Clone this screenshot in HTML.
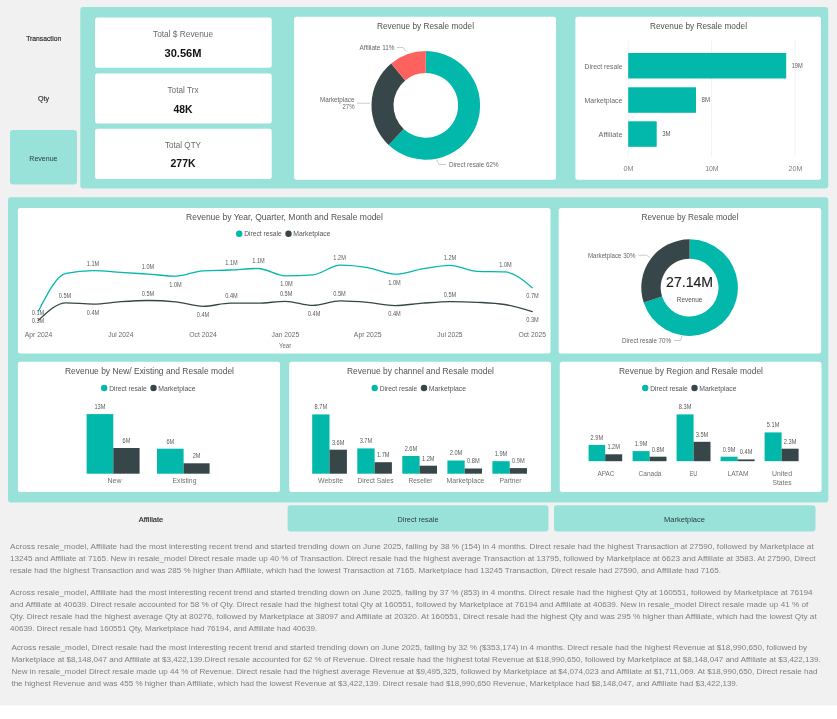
<!DOCTYPE html>
<html><head><meta charset="utf-8"><title>Dashboard</title>
<style>html,body{margin:0;padding:0;background:#fff;overflow:hidden}svg{display:block;will-change:transform}text{font-family:"Liberation Sans",sans-serif}</style></head>
<body>
<svg width="837" height="719" viewBox="0 0 837 719">
<rect x="0.00" y="0.00" width="837.00" height="705.60" fill="#f1f1f1"/>
<rect x="0.00" y="705.60" width="837.00" height="13.40" fill="#ffffff"/>
<rect x="80.30" y="6.90" width="747.90" height="181.70" fill="#99e2da" rx="3"/>
<text x="43.70" y="40.60" font-size="7.8" fill="#222" text-anchor="middle" stroke="#222" stroke-width="0.14" textLength="35.0" lengthAdjust="spacingAndGlyphs">Transaction</text>
<text x="43.50" y="100.70" font-size="7.8" fill="#222" text-anchor="middle" stroke="#222" stroke-width="0.14" textLength="11.1" lengthAdjust="spacingAndGlyphs">Qty</text>
<rect x="10.00" y="130.00" width="67.00" height="54.40" fill="#99e2da" rx="3"/>
<text x="43.40" y="160.80" font-size="7.9" fill="#2c3c3c" text-anchor="middle" textLength="28.2" lengthAdjust="spacingAndGlyphs">Revenue</text>
<rect x="95.00" y="17.60" width="176.70" height="50.10" fill="#fff" rx="2.5"/>
<text x="183.00" y="37.30" font-size="9" fill="#6a6a6a" text-anchor="middle" textLength="60.0" lengthAdjust="spacingAndGlyphs">Total $ Revenue</text>
<text x="183.00" y="56.50" font-size="11" fill="#111" text-anchor="middle" textLength="37.0" lengthAdjust="spacingAndGlyphs" font-weight="700">30.56M</text>
<rect x="95.00" y="73.60" width="176.70" height="49.80" fill="#fff" rx="2.5"/>
<text x="183.00" y="93.30" font-size="9" fill="#6a6a6a" text-anchor="middle" textLength="31.0" lengthAdjust="spacingAndGlyphs">Total Trx</text>
<text x="183.00" y="112.50" font-size="11" fill="#111" text-anchor="middle" textLength="19.0" lengthAdjust="spacingAndGlyphs" font-weight="700">48K</text>
<rect x="95.00" y="128.80" width="176.70" height="50.20" fill="#fff" rx="2.5"/>
<text x="183.00" y="147.80" font-size="9" fill="#6a6a6a" text-anchor="middle" textLength="36.0" lengthAdjust="spacingAndGlyphs">Total QTY</text>
<text x="183.00" y="167.30" font-size="11" fill="#111" text-anchor="middle" textLength="25.0" lengthAdjust="spacingAndGlyphs" font-weight="700">277K</text>
<rect x="294.10" y="16.70" width="261.90" height="163.00" fill="#fff" rx="2.5"/>
<text x="425.50" y="28.60" font-size="9" fill="#525252" text-anchor="middle" textLength="97.0" lengthAdjust="spacingAndGlyphs">Revenue by Resale model</text>
<path d="M425.80,51.10 A54.3,54.3 0 1 1 388.63,144.98 L403.69,128.95 A32.3,32.3 0 1 0 425.80,73.10 Z" fill="#01b8aa"/>
<path d="M388.63,144.98 A54.3,54.3 0 0 1 391.19,63.56 L405.21,80.51 A32.3,32.3 0 0 0 403.69,128.95 Z" fill="#374649"/>
<path d="M391.19,63.56 A54.3,54.3 0 0 1 425.80,51.10 L425.80,73.10 A32.3,32.3 0 0 0 405.21,80.51 Z" fill="#fd625e"/>
<text x="394.50" y="50.00" font-size="6.6" fill="#666" text-anchor="end" textLength="35.0" lengthAdjust="spacingAndGlyphs">Affiliate 11%</text>
<path d="M397,47.5 h6 l3,4" fill="none" stroke="#b4b4b4" stroke-width="0.7"/>
<text x="354.50" y="102.30" font-size="6.6" fill="#666" text-anchor="end" textLength="34.5" lengthAdjust="spacingAndGlyphs">Marketplace</text>
<text x="354.50" y="108.90" font-size="6.6" fill="#666" text-anchor="end" textLength="12.0" lengthAdjust="spacingAndGlyphs">27%</text>
<path d="M357,103.2 h13" fill="none" stroke="#b4b4b4" stroke-width="0.7"/>
<text x="449.00" y="167.00" font-size="6.6" fill="#666" text-anchor="start" textLength="49.5" lengthAdjust="spacingAndGlyphs">Direct resale 62%</text>
<path d="M437,160 l2,4.5 h7" fill="none" stroke="#b4b4b4" stroke-width="0.7"/>
<rect x="575.40" y="16.70" width="245.60" height="163.10" fill="#fff" rx="2.5"/>
<text x="698.50" y="28.60" font-size="9" fill="#525252" text-anchor="middle" textLength="97.0" lengthAdjust="spacingAndGlyphs">Revenue by Resale model</text>
<line x1="628.2" y1="40" x2="628.2" y2="156" stroke="#ececec" stroke-width="0.7"/>
<line x1="711.6" y1="40" x2="711.6" y2="156" stroke="#ececec" stroke-width="0.7"/>
<line x1="795.1" y1="40" x2="795.1" y2="156" stroke="#ececec" stroke-width="0.7"/>
<rect x="628.20" y="53.00" width="158.00" height="25.50" fill="#01b8aa"/>
<text x="622.50" y="68.75" font-size="7.6" fill="#6a6a6a" text-anchor="end" textLength="38.0" lengthAdjust="spacingAndGlyphs">Direct resale</text>
<text x="791.70" y="68.15" font-size="6.4" fill="#5a5a5a" text-anchor="start" textLength="11.0" lengthAdjust="spacingAndGlyphs">19M</text>
<rect x="628.20" y="87.30" width="67.80" height="25.50" fill="#01b8aa"/>
<text x="622.50" y="103.05" font-size="7.6" fill="#6a6a6a" text-anchor="end" textLength="38.0" lengthAdjust="spacingAndGlyphs">Marketplace</text>
<text x="701.50" y="102.45" font-size="6.4" fill="#5a5a5a" text-anchor="start" textLength="8.5" lengthAdjust="spacingAndGlyphs">8M</text>
<rect x="628.20" y="121.30" width="28.50" height="25.50" fill="#01b8aa"/>
<text x="622.50" y="137.05" font-size="7.6" fill="#6a6a6a" text-anchor="end" textLength="24.0" lengthAdjust="spacingAndGlyphs">Affiliate</text>
<text x="662.20" y="136.45" font-size="6.4" fill="#5a5a5a" text-anchor="start" textLength="8.5" lengthAdjust="spacingAndGlyphs">3M</text>
<text x="628.50" y="171.00" font-size="7.3" fill="#808080" text-anchor="middle" textLength="10.0" lengthAdjust="spacingAndGlyphs">0M</text>
<text x="711.90" y="171.00" font-size="7.3" fill="#808080" text-anchor="middle" textLength="13.5" lengthAdjust="spacingAndGlyphs">10M</text>
<text x="795.40" y="171.00" font-size="7.3" fill="#808080" text-anchor="middle" textLength="14.0" lengthAdjust="spacingAndGlyphs">20M</text>
<rect x="8.00" y="197.20" width="820.30" height="305.30" fill="#99e2da" rx="3"/>
<rect x="17.90" y="207.90" width="532.60" height="145.50" fill="#fff" rx="2.5"/>
<text x="284.50" y="220.20" font-size="9" fill="#525252" text-anchor="middle" textLength="197.0" lengthAdjust="spacingAndGlyphs">Revenue by Year, Quarter, Month and Resale model</text>
<circle cx="239.20" cy="233.70" r="3.2" fill="#01b8aa"/>
<text x="244.20" y="236.40" font-size="7.3" fill="#555" text-anchor="start" textLength="37.6" lengthAdjust="spacingAndGlyphs">Direct resale</text>
<circle cx="288.50" cy="233.70" r="3.2" fill="#374649"/>
<text x="293.30" y="236.40" font-size="7.3" fill="#555" text-anchor="start" textLength="37.2" lengthAdjust="spacingAndGlyphs">Marketplace</text>
<path d="M38.50,320.30 C47.64,311.55 56.79,302.80 65.93,302.80 C75.07,302.80 84.22,304.10 93.36,304.10 C102.50,304.10 111.65,302.30 120.79,301.70 C129.93,301.10 139.08,300.50 148.22,300.50 C157.36,300.50 166.51,300.97 175.65,301.90 C184.79,302.83 193.94,306.30 203.08,306.30 C212.22,306.30 221.37,303.20 230.51,303.20 C239.65,303.20 248.80,303.20 257.94,303.20 C267.08,303.20 276.23,301.30 285.37,301.30 C294.51,301.30 303.66,305.40 312.80,305.40 C321.94,305.40 331.09,300.90 340.23,300.90 C349.37,300.90 358.52,301.62 367.66,302.40 C376.80,303.18 385.95,305.60 395.09,305.60 C404.23,305.60 413.38,303.87 422.52,303.20 C431.66,302.53 440.81,301.60 449.95,301.60 C459.09,301.60 468.24,301.83 477.38,302.30 C486.52,302.77 495.67,303.03 504.81,304.50 C513.95,305.97 523.10,308.78 532.24,311.60" fill="none" stroke="#374649" stroke-width="1.3" stroke-linecap="round" stroke-linejoin="round"/>
<path d="M38.50,311.00 C47.64,293.05 56.79,275.10 65.93,273.30 C75.07,271.50 84.22,270.60 93.36,270.60 C102.50,270.60 111.65,271.82 120.79,272.40 C129.93,272.98 139.08,273.47 148.22,274.10 C157.36,274.73 166.51,276.20 175.65,276.20 C184.79,276.20 193.94,271.33 203.08,270.80 C212.22,270.27 221.37,270.38 230.51,270.00 C239.65,269.62 248.80,268.50 257.94,268.50 C267.08,268.50 276.23,275.90 285.37,275.90 C294.51,275.90 303.66,275.57 312.80,274.90 C321.94,274.23 331.09,265.10 340.23,265.10 C349.37,265.10 358.52,266.08 367.66,267.60 C376.80,269.12 385.95,274.20 395.09,274.20 C404.23,274.20 413.38,270.37 422.52,268.90 C431.66,267.43 440.81,265.40 449.95,265.40 C459.09,265.40 468.24,271.07 477.38,271.40 C486.52,271.73 495.67,271.57 504.81,271.90 C513.95,272.23 523.10,279.97 532.24,287.70" fill="none" stroke="#01b8aa" stroke-width="1.3" stroke-linecap="round" stroke-linejoin="round"/>
<text x="38.50" y="336.50" font-size="7.3" fill="#6a6a6a" text-anchor="middle" textLength="27.6" lengthAdjust="spacingAndGlyphs">Apr 2024</text>
<text x="120.79" y="336.50" font-size="7.3" fill="#6a6a6a" text-anchor="middle" textLength="25.2" lengthAdjust="spacingAndGlyphs">Jul 2024</text>
<text x="203.08" y="336.50" font-size="7.3" fill="#6a6a6a" text-anchor="middle" textLength="27.6" lengthAdjust="spacingAndGlyphs">Oct 2024</text>
<text x="285.37" y="336.50" font-size="7.3" fill="#6a6a6a" text-anchor="middle" textLength="27.6" lengthAdjust="spacingAndGlyphs">Jan 2025</text>
<text x="367.66" y="336.50" font-size="7.3" fill="#6a6a6a" text-anchor="middle" textLength="27.6" lengthAdjust="spacingAndGlyphs">Apr 2025</text>
<text x="449.95" y="336.50" font-size="7.3" fill="#6a6a6a" text-anchor="middle" textLength="25.2" lengthAdjust="spacingAndGlyphs">Jul 2025</text>
<text x="532.24" y="336.50" font-size="7.3" fill="#6a6a6a" text-anchor="middle" textLength="27.6" lengthAdjust="spacingAndGlyphs">Oct 2025</text>
<text x="285.10" y="347.50" font-size="7.3" fill="#707070" text-anchor="middle" textLength="12.4" lengthAdjust="spacingAndGlyphs">Year</text>
<text x="93.00" y="266.00" font-size="6.4" fill="#5a5a5a" text-anchor="middle" textLength="12.5" lengthAdjust="spacingAndGlyphs">1.1M</text>
<text x="148.00" y="269.00" font-size="6.4" fill="#5a5a5a" text-anchor="middle" textLength="12.5" lengthAdjust="spacingAndGlyphs">1.0M</text>
<text x="175.50" y="287.00" font-size="6.4" fill="#5a5a5a" text-anchor="middle" textLength="12.5" lengthAdjust="spacingAndGlyphs">1.0M</text>
<text x="231.50" y="265.00" font-size="6.4" fill="#5a5a5a" text-anchor="middle" textLength="12.5" lengthAdjust="spacingAndGlyphs">1.1M</text>
<text x="258.50" y="263.30" font-size="6.4" fill="#5a5a5a" text-anchor="middle" textLength="12.5" lengthAdjust="spacingAndGlyphs">1.1M</text>
<text x="286.50" y="285.70" font-size="6.4" fill="#5a5a5a" text-anchor="middle" textLength="12.5" lengthAdjust="spacingAndGlyphs">1.0M</text>
<text x="339.60" y="259.90" font-size="6.4" fill="#5a5a5a" text-anchor="middle" textLength="12.5" lengthAdjust="spacingAndGlyphs">1.2M</text>
<text x="394.50" y="284.50" font-size="6.4" fill="#5a5a5a" text-anchor="middle" textLength="12.5" lengthAdjust="spacingAndGlyphs">1.0M</text>
<text x="450.00" y="259.50" font-size="6.4" fill="#5a5a5a" text-anchor="middle" textLength="12.5" lengthAdjust="spacingAndGlyphs">1.2M</text>
<text x="505.50" y="267.00" font-size="6.4" fill="#5a5a5a" text-anchor="middle" textLength="12.5" lengthAdjust="spacingAndGlyphs">1.0M</text>
<text x="532.50" y="297.50" font-size="6.4" fill="#5a5a5a" text-anchor="middle" textLength="12.5" lengthAdjust="spacingAndGlyphs">0.7M</text>
<text x="65.00" y="298.00" font-size="6.4" fill="#5a5a5a" text-anchor="middle" textLength="12.5" lengthAdjust="spacingAndGlyphs">0.5M</text>
<text x="93.00" y="314.50" font-size="6.4" fill="#5a5a5a" text-anchor="middle" textLength="12.5" lengthAdjust="spacingAndGlyphs">0.4M</text>
<text x="148.00" y="295.50" font-size="6.4" fill="#5a5a5a" text-anchor="middle" textLength="12.5" lengthAdjust="spacingAndGlyphs">0.5M</text>
<text x="203.00" y="317.00" font-size="6.4" fill="#5a5a5a" text-anchor="middle" textLength="12.5" lengthAdjust="spacingAndGlyphs">0.4M</text>
<text x="231.50" y="298.20" font-size="6.4" fill="#5a5a5a" text-anchor="middle" textLength="12.5" lengthAdjust="spacingAndGlyphs">0.4M</text>
<text x="286.20" y="295.70" font-size="6.4" fill="#5a5a5a" text-anchor="middle" textLength="12.5" lengthAdjust="spacingAndGlyphs">0.5M</text>
<text x="314.10" y="315.90" font-size="6.4" fill="#5a5a5a" text-anchor="middle" textLength="12.5" lengthAdjust="spacingAndGlyphs">0.4M</text>
<text x="339.50" y="295.70" font-size="6.4" fill="#5a5a5a" text-anchor="middle" textLength="12.5" lengthAdjust="spacingAndGlyphs">0.5M</text>
<text x="394.50" y="315.90" font-size="6.4" fill="#5a5a5a" text-anchor="middle" textLength="12.5" lengthAdjust="spacingAndGlyphs">0.4M</text>
<text x="450.00" y="296.50" font-size="6.4" fill="#5a5a5a" text-anchor="middle" textLength="12.5" lengthAdjust="spacingAndGlyphs">0.5M</text>
<text x="532.50" y="321.50" font-size="6.4" fill="#5a5a5a" text-anchor="middle" textLength="12.5" lengthAdjust="spacingAndGlyphs">0.3M</text>
<text x="38.00" y="315.00" font-size="6.4" fill="#5a5a5a" text-anchor="middle" textLength="12.5" lengthAdjust="spacingAndGlyphs">0.1M</text>
<text x="38.00" y="322.80" font-size="6.4" fill="#5a5a5a" text-anchor="middle" textLength="12.5" lengthAdjust="spacingAndGlyphs">0.3M</text>
<rect x="558.70" y="207.90" width="262.50" height="145.50" fill="#fff" rx="2.5"/>
<text x="690.00" y="220.20" font-size="9" fill="#525252" text-anchor="middle" textLength="97.0" lengthAdjust="spacingAndGlyphs">Revenue by Resale model</text>
<path d="M689.60,239.30 A48.3,48.3 0 1 1 643.66,302.53 L662.11,296.53 A28.9,28.9 0 1 0 689.60,258.70 Z" fill="#01b8aa"/>
<path d="M643.66,302.53 A48.3,48.3 0 0 1 689.60,239.30 L689.60,258.70 A28.9,28.9 0 0 0 662.11,296.53 Z" fill="#374649"/>
<text x="689.60" y="287.40" font-size="15" fill="#222" text-anchor="middle" stroke="#222" stroke-width="0.15" textLength="47.0" lengthAdjust="spacingAndGlyphs">27.14M</text>
<text x="689.60" y="302.00" font-size="7.3" fill="#555" text-anchor="middle" textLength="25.6" lengthAdjust="spacingAndGlyphs">Revenue</text>
<text x="635.50" y="258.00" font-size="6.6" fill="#666" text-anchor="end" textLength="47.5" lengthAdjust="spacingAndGlyphs">Marketplace 30%</text>
<path d="M638.5,255.2 h8 l3.5,2.5" fill="none" stroke="#b4b4b4" stroke-width="0.7"/>
<text x="671.00" y="343.00" font-size="6.6" fill="#666" text-anchor="end" textLength="49.0" lengthAdjust="spacingAndGlyphs">Direct resale 70%</text>
<path d="M674,340.5 h6.5 l1.5,-4.5" fill="none" stroke="#b4b4b4" stroke-width="0.7"/>
<rect x="17.90" y="361.70" width="262.10" height="130.40" fill="#fff" rx="2.5"/>
<text x="149.50" y="373.80" font-size="9" fill="#525252" text-anchor="middle" textLength="169.0" lengthAdjust="spacingAndGlyphs">Revenue by New/ Existing and Resale model</text>
<circle cx="104.20" cy="388.00" r="3.2" fill="#01b8aa"/>
<text x="109.20" y="390.70" font-size="7.3" fill="#555" text-anchor="start" textLength="37.6" lengthAdjust="spacingAndGlyphs">Direct resale</text>
<circle cx="153.50" cy="388.00" r="3.2" fill="#374649"/>
<text x="158.30" y="390.70" font-size="7.3" fill="#555" text-anchor="start" textLength="37.2" lengthAdjust="spacingAndGlyphs">Marketplace</text>
<rect x="86.60" y="414.10" width="26.70" height="59.60" fill="#01b8aa"/>
<text x="99.95" y="409.00" font-size="6.4" fill="#5a5a5a" text-anchor="middle" textLength="11.0" lengthAdjust="spacingAndGlyphs">13M</text>
<rect x="113.30" y="448.00" width="26.30" height="25.70" fill="#374649"/>
<text x="126.45" y="442.90" font-size="6.4" fill="#5a5a5a" text-anchor="middle" textLength="7.8" lengthAdjust="spacingAndGlyphs">6M</text>
<rect x="157.00" y="448.70" width="26.60" height="25.00" fill="#01b8aa"/>
<text x="170.30" y="443.60" font-size="6.4" fill="#5a5a5a" text-anchor="middle" textLength="7.8" lengthAdjust="spacingAndGlyphs">6M</text>
<rect x="183.60" y="463.30" width="26.00" height="10.40" fill="#374649"/>
<text x="196.60" y="458.20" font-size="6.4" fill="#5a5a5a" text-anchor="middle" textLength="7.8" lengthAdjust="spacingAndGlyphs">2M</text>
<text x="114.50" y="482.60" font-size="7.3" fill="#707070" text-anchor="middle" textLength="14.0" lengthAdjust="spacingAndGlyphs">New</text>
<text x="184.50" y="482.60" font-size="7.3" fill="#707070" text-anchor="middle" textLength="24.0" lengthAdjust="spacingAndGlyphs">Existing</text>
<rect x="289.20" y="361.70" width="261.80" height="130.40" fill="#fff" rx="2.5"/>
<text x="420.50" y="373.80" font-size="9" fill="#525252" text-anchor="middle" textLength="147.0" lengthAdjust="spacingAndGlyphs">Revenue by channel and Resale model</text>
<circle cx="374.70" cy="388.00" r="3.2" fill="#01b8aa"/>
<text x="379.70" y="390.70" font-size="7.3" fill="#555" text-anchor="start" textLength="37.6" lengthAdjust="spacingAndGlyphs">Direct resale</text>
<circle cx="424.00" cy="388.00" r="3.2" fill="#374649"/>
<text x="428.80" y="390.70" font-size="7.3" fill="#555" text-anchor="start" textLength="37.2" lengthAdjust="spacingAndGlyphs">Marketplace</text>
<rect x="312.20" y="414.40" width="17.30" height="59.30" fill="#01b8aa"/>
<text x="320.85" y="409.30" font-size="6.4" fill="#5a5a5a" text-anchor="middle" textLength="12.6" lengthAdjust="spacingAndGlyphs">8.7M</text>
<rect x="329.50" y="449.70" width="17.40" height="24.00" fill="#374649"/>
<text x="338.20" y="444.60" font-size="6.4" fill="#5a5a5a" text-anchor="middle" textLength="12.6" lengthAdjust="spacingAndGlyphs">3.6M</text>
<rect x="357.30" y="448.40" width="17.30" height="25.30" fill="#01b8aa"/>
<text x="365.95" y="443.30" font-size="6.4" fill="#5a5a5a" text-anchor="middle" textLength="12.6" lengthAdjust="spacingAndGlyphs">3.7M</text>
<rect x="374.60" y="462.20" width="17.30" height="11.50" fill="#374649"/>
<text x="383.25" y="457.10" font-size="6.4" fill="#5a5a5a" text-anchor="middle" textLength="12.6" lengthAdjust="spacingAndGlyphs">1.7M</text>
<rect x="402.30" y="456.00" width="17.30" height="17.70" fill="#01b8aa"/>
<text x="410.95" y="450.90" font-size="6.4" fill="#5a5a5a" text-anchor="middle" textLength="12.6" lengthAdjust="spacingAndGlyphs">2.6M</text>
<rect x="419.60" y="465.70" width="17.40" height="8.00" fill="#374649"/>
<text x="428.30" y="460.60" font-size="6.4" fill="#5a5a5a" text-anchor="middle" textLength="12.6" lengthAdjust="spacingAndGlyphs">1.2M</text>
<rect x="447.40" y="460.50" width="17.30" height="13.20" fill="#01b8aa"/>
<text x="456.05" y="455.40" font-size="6.4" fill="#5a5a5a" text-anchor="middle" textLength="12.6" lengthAdjust="spacingAndGlyphs">2.0M</text>
<rect x="464.70" y="468.50" width="17.30" height="5.20" fill="#374649"/>
<text x="473.35" y="463.40" font-size="6.4" fill="#5a5a5a" text-anchor="middle" textLength="12.6" lengthAdjust="spacingAndGlyphs">0.8M</text>
<rect x="492.40" y="461.20" width="17.30" height="12.50" fill="#01b8aa"/>
<text x="501.05" y="456.10" font-size="6.4" fill="#5a5a5a" text-anchor="middle" textLength="12.6" lengthAdjust="spacingAndGlyphs">1.9M</text>
<rect x="509.70" y="468.10" width="17.30" height="5.60" fill="#374649"/>
<text x="518.35" y="463.00" font-size="6.4" fill="#5a5a5a" text-anchor="middle" textLength="12.6" lengthAdjust="spacingAndGlyphs">0.9M</text>
<text x="330.50" y="482.60" font-size="7.3" fill="#707070" text-anchor="middle" textLength="25.0" lengthAdjust="spacingAndGlyphs">Website</text>
<text x="375.50" y="482.60" font-size="7.3" fill="#707070" text-anchor="middle" textLength="36.0" lengthAdjust="spacingAndGlyphs">Direct Sales</text>
<text x="420.50" y="482.60" font-size="7.3" fill="#707070" text-anchor="middle" textLength="24.0" lengthAdjust="spacingAndGlyphs">Reseller</text>
<text x="465.50" y="482.60" font-size="7.3" fill="#707070" text-anchor="middle" textLength="38.0" lengthAdjust="spacingAndGlyphs">Marketplace</text>
<text x="510.50" y="482.60" font-size="7.3" fill="#707070" text-anchor="middle" textLength="22.0" lengthAdjust="spacingAndGlyphs">Partner</text>
<rect x="559.80" y="361.70" width="261.70" height="130.40" fill="#fff" rx="2.5"/>
<text x="691.00" y="373.80" font-size="9" fill="#525252" text-anchor="middle" textLength="144.0" lengthAdjust="spacingAndGlyphs">Revenue by Region and Resale model</text>
<circle cx="645.20" cy="388.00" r="3.2" fill="#01b8aa"/>
<text x="650.20" y="390.70" font-size="7.3" fill="#555" text-anchor="start" textLength="37.6" lengthAdjust="spacingAndGlyphs">Direct resale</text>
<circle cx="694.50" cy="388.00" r="3.2" fill="#374649"/>
<text x="699.30" y="390.70" font-size="7.3" fill="#555" text-anchor="start" textLength="37.2" lengthAdjust="spacingAndGlyphs">Marketplace</text>
<rect x="588.60" y="444.90" width="16.60" height="16.30" fill="#01b8aa"/>
<text x="596.90" y="439.80" font-size="6.4" fill="#5a5a5a" text-anchor="middle" textLength="12.6" lengthAdjust="spacingAndGlyphs">2.9M</text>
<rect x="605.20" y="454.30" width="17.00" height="6.90" fill="#374649"/>
<text x="613.70" y="449.20" font-size="6.4" fill="#5a5a5a" text-anchor="middle" textLength="12.6" lengthAdjust="spacingAndGlyphs">1.2M</text>
<rect x="632.60" y="451.10" width="17.00" height="10.10" fill="#01b8aa"/>
<text x="641.10" y="446.00" font-size="6.4" fill="#5a5a5a" text-anchor="middle" textLength="12.6" lengthAdjust="spacingAndGlyphs">1.9M</text>
<rect x="649.60" y="456.70" width="16.90" height="4.50" fill="#374649"/>
<text x="658.05" y="451.60" font-size="6.4" fill="#5a5a5a" text-anchor="middle" textLength="12.6" lengthAdjust="spacingAndGlyphs">0.8M</text>
<rect x="676.60" y="414.40" width="17.00" height="46.80" fill="#01b8aa"/>
<text x="685.10" y="409.30" font-size="6.4" fill="#5a5a5a" text-anchor="middle" textLength="12.6" lengthAdjust="spacingAndGlyphs">8.3M</text>
<rect x="693.60" y="441.80" width="16.90" height="19.40" fill="#374649"/>
<text x="702.05" y="436.70" font-size="6.4" fill="#5a5a5a" text-anchor="middle" textLength="12.6" lengthAdjust="spacingAndGlyphs">3.5M</text>
<rect x="720.60" y="456.70" width="17.00" height="4.50" fill="#01b8aa"/>
<text x="729.10" y="451.60" font-size="6.4" fill="#5a5a5a" text-anchor="middle" textLength="12.6" lengthAdjust="spacingAndGlyphs">0.9M</text>
<rect x="737.60" y="459.40" width="17.00" height="1.80" fill="#374649"/>
<text x="746.10" y="454.30" font-size="6.4" fill="#5a5a5a" text-anchor="middle" textLength="12.6" lengthAdjust="spacingAndGlyphs">0.4M</text>
<rect x="764.60" y="432.40" width="17.00" height="28.80" fill="#01b8aa"/>
<text x="773.10" y="427.30" font-size="6.4" fill="#5a5a5a" text-anchor="middle" textLength="12.6" lengthAdjust="spacingAndGlyphs">5.1M</text>
<rect x="781.60" y="448.70" width="17.00" height="12.50" fill="#374649"/>
<text x="790.10" y="443.60" font-size="6.4" fill="#5a5a5a" text-anchor="middle" textLength="12.6" lengthAdjust="spacingAndGlyphs">2.3M</text>
<text x="606.00" y="476.10" font-size="7.3" fill="#707070" text-anchor="middle" textLength="17.0" lengthAdjust="spacingAndGlyphs">APAC</text>
<text x="650.00" y="476.10" font-size="7.3" fill="#707070" text-anchor="middle" textLength="23.0" lengthAdjust="spacingAndGlyphs">Canada</text>
<text x="693.50" y="476.10" font-size="7.3" fill="#707070" text-anchor="middle" textLength="8.0" lengthAdjust="spacingAndGlyphs">EU</text>
<text x="738.00" y="476.10" font-size="7.3" fill="#707070" text-anchor="middle" textLength="21.0" lengthAdjust="spacingAndGlyphs">LATAM</text>
<text x="782.00" y="476.10" font-size="7.3" fill="#707070" text-anchor="middle" textLength="20.0" lengthAdjust="spacingAndGlyphs">United</text>
<text x="782.00" y="485.20" font-size="7.3" fill="#707070" text-anchor="middle" textLength="19.0" lengthAdjust="spacingAndGlyphs">States</text>
<text x="151.00" y="521.50" font-size="7.8" fill="#222" text-anchor="middle" stroke="#222" stroke-width="0.14" textLength="24.3" lengthAdjust="spacingAndGlyphs">Affiliate</text>
<rect x="287.60" y="505.20" width="260.90" height="26.40" fill="#99e2da" rx="3"/>
<text x="418.00" y="521.50" font-size="7.6" fill="#2c3c3c" text-anchor="middle" textLength="41.0" lengthAdjust="spacingAndGlyphs">Direct resale</text>
<rect x="554.00" y="505.20" width="261.50" height="26.40" fill="#99e2da" rx="3"/>
<text x="684.50" y="521.50" font-size="7.6" fill="#2c3c3c" text-anchor="middle" textLength="41.0" lengthAdjust="spacingAndGlyphs">Marketplace</text>
<text x="10.00" y="549.20" font-size="8" fill="#808080" text-anchor="start" textLength="803.7" lengthAdjust="spacingAndGlyphs">Across resale_model, Affiliate had the most interesting recent trend and started trending down on June 2025, falling by 38 % (154) in 4 months. Direct resale had the highest Transaction at 27590, followed by Marketplace at</text>
<text x="10.00" y="561.10" font-size="8" fill="#808080" text-anchor="start" textLength="805.5" lengthAdjust="spacingAndGlyphs">13245 and Affiliate at 7165. New in resale_model Direct resale made up 40 % of Transaction. Direct resale had the highest average Transaction at 13795, followed by Marketplace at 6623 and Affiliate at 3583. At 27590, Direct</text>
<text x="10.00" y="573.00" font-size="8" fill="#808080" text-anchor="start" textLength="711.0" lengthAdjust="spacingAndGlyphs">resale had the highest Transaction and was 285 % higher than Affiliate, which had the lowest Transaction at 7165. Marketplace had 13245 Transaction, Direct resale had 27590, and Affiliate had 7165.</text>
<text x="10.00" y="594.80" font-size="8" fill="#808080" text-anchor="start" textLength="802.6" lengthAdjust="spacingAndGlyphs">Across resale_model, Affiliate had the most interesting recent trend and started trending down on June 2025, falling by 37 % (853) in 4 months. Direct resale had the highest Qty at 160551, followed by Marketplace at 76194</text>
<text x="10.00" y="607.00" font-size="8" fill="#808080" text-anchor="start" textLength="798.3" lengthAdjust="spacingAndGlyphs">and Affiliate at 40639. Direct resale accounted for 58 % of Qty. Direct resale had the highest total Qty at 160551, followed by Marketplace at 76194 and Affiliate at 40639. New in resale_model Direct resale made up 41 % of</text>
<text x="10.00" y="619.00" font-size="8" fill="#808080" text-anchor="start" textLength="806.7" lengthAdjust="spacingAndGlyphs">Qty. Direct resale had the highest average Qty at 80276, followed by Marketplace at 38097 and Affiliate at 20320. At 160551, Direct resale had the highest Qty and was 295 % higher than Affiliate, which had the lowest Qty at</text>
<text x="10.00" y="631.20" font-size="8" fill="#808080" text-anchor="start" textLength="307.2" lengthAdjust="spacingAndGlyphs">40639. Direct resale had 160551 Qty, Marketplace had 76194, and Affiliate had 40639.</text>
<text x="11.40" y="649.60" font-size="8" fill="#808080" text-anchor="start" textLength="795.8" lengthAdjust="spacingAndGlyphs">Across resale_model, Direct resale had the most interesting recent trend and started trending down on June 2025, falling by 32 % ($353,174) in 4 months. Direct resale had the highest Revenue at $18,990,650, followed by</text>
<text x="11.40" y="661.80" font-size="8" fill="#808080" text-anchor="start" textLength="809.4" lengthAdjust="spacingAndGlyphs">Marketplace at $8,148,047 and Affiliate at $3,422,139.Direct resale accounted for 62 % of Revenue. Direct resale had the highest total Revenue at $18,990,650, followed by Marketplace at $8,148,047 and Affiliate at $3,422,139.</text>
<text x="11.40" y="674.00" font-size="8" fill="#808080" text-anchor="start" textLength="806.1" lengthAdjust="spacingAndGlyphs">New in resale_model Direct resale made up 44 % of Revenue. Direct resale had the highest average Revenue at $9,495,325, followed by Marketplace at $4,074,023 and Affiliate at $1,711,069. At $18,990,650, Direct resale had</text>
<text x="11.40" y="686.20" font-size="8" fill="#808080" text-anchor="start" textLength="726.7" lengthAdjust="spacingAndGlyphs">the highest Revenue and was 455 % higher than Affiliate, which had the lowest Revenue at $3,422,139. Direct resale had $18,990,650 Revenue, Marketplace had $8,148,047, and Affiliate had $3,422,139.</text>
</svg>
</body></html>
